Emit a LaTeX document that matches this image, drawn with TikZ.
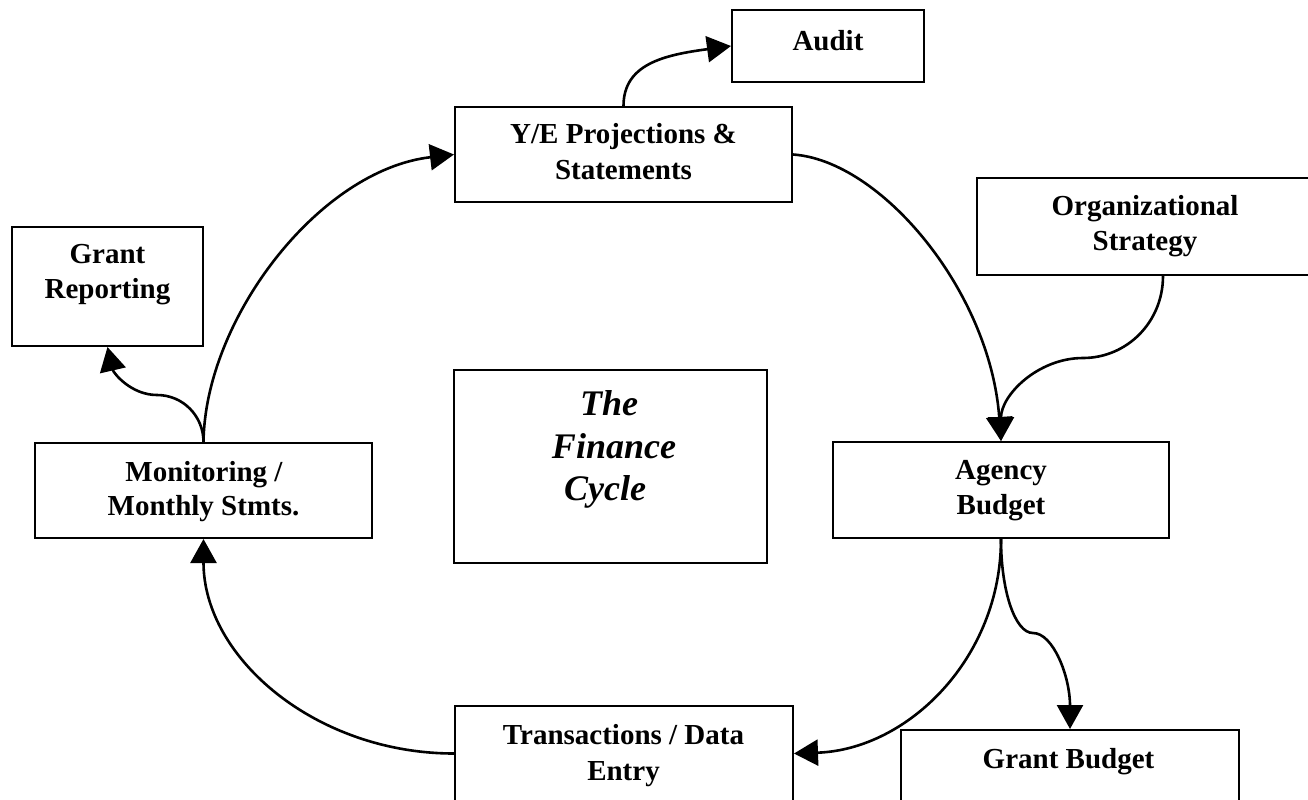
\documentclass[tikz,border=0pt]{standalone}
\usepackage{fontspec}
\setmainfont{Liberation Serif}
\usetikzlibrary{arrows.meta}
\begin{document}
\begin{tikzpicture}[x=0.5pt,y=-0.5pt,
  bx/.style={draw, line width=1pt, inner sep=0pt, rectangle},
  lbl/.style={anchor=base, inner sep=0pt, font=\fontsize{14.5pt}{17pt}\selectfont\bfseries},
  big/.style={anchor=base, inner sep=0pt, font=\fontsize{18pt}{21pt}\selectfont\bfseries\itshape},
  conn/.style={line width=1.3pt, -{Triangle[length=12pt,width=13pt]}}]
\useasboundingbox (0,0) rectangle (1308,799);
% boxes
\node[bx, minimum width=96pt, minimum height=36pt] (audit) at (828,46) {};
\node[bx, minimum width=168.5pt, minimum height=47.5pt] (ye) at (623.5,154.5) {};
\node[bx, minimum width=168pt, minimum height=48.5pt] (org) at (1145,226.5) {};
\node[bx, minimum width=95.5pt, minimum height=59.5pt] (grep) at (107.5,286.5) {};
\node[bx, minimum width=156.5pt, minimum height=96.5pt] (fin) at (610.5,466.5) {};
\node[bx, minimum width=168.5pt, minimum height=47.5pt] (mon) at (203.5,490.5) {};
\node[bx, minimum width=168pt, minimum height=48pt] (agency) at (1001,490) {};
\node[bx, minimum width=169pt, minimum height=47.5pt] (trans) at (624,753.5) {};
\node[bx, minimum width=169pt, minimum height=47.5pt] (gbud) at (1070,777.5) {};
% texts
\node[lbl] (tAudit) at (828,50) {Audit};
\node[lbl] (tYe1) at (623.5,143) {Y/E Projections \&};
\node[lbl] (tYe2) at (623.5,179) {Statements};
\node[lbl] (tOrg1) at (1145,215) {Organizational};
\node[lbl] (tOrg2) at (1145,250) {Strategy};
\node[lbl] (tGr1) at (107.5,263) {Grant};
\node[lbl] (tGr2) at (107.5,298) {Reporting};
\node[big] (tF1) at (609,415) {The};
\node[big] (tF2) at (614,458) {Finance};
\node[big] (tF3) at (605,500) {Cycle};
\node[lbl] (tMon1) at (204,481) {Monitoring /};
\node[lbl] (tMon2) at (203.5,515) {Monthly Stmts.};
\node[lbl] (tAg1) at (1001,479) {Agency};
\node[lbl] (tAg2) at (1001,514) {Budget};
\node[lbl] (tTr1) at (623.5,744) {Transactions / Data};
\node[lbl] (tTr2) at (623.5,780) {Entry};
\node[lbl] (tGb) at (1068.5,768) {Grant Budget};
% helper points of the S-shaped connectors
\coordinate (om) at (1083,358);
\coordinate (gm) at (1033,633);
\coordinate (rm) at (157,395);
% connectors
\draw[conn] (ye.north) .. controls +(0,-42) and +(-67,9) .. (audit.west);
\draw[conn] (ye.east) .. controls +(88,6) and +(-11,-150) .. (agency.north);
\draw[conn] ([xshift=9pt]org.south) .. controls +(0,46) and +(44,0) .. (om)
   .. controls +(-45,0) and +(0,-46) .. (agency.north);
\draw[conn] (agency.south) .. controls +(0,119) and +(114,-4) .. (trans.east);
\draw[conn] (agency.south) .. controls +(0,52) and +(-18,0) .. (gm)
   .. controls +(20,0) and +(0,-53) .. (gbud.north);
\draw[conn] (trans.west) .. controls +(-138,0) and +(0,119) .. (mon.south);
\draw[conn] (mon.north) .. controls +(1.5,-123) and +(-135,15.5) .. (ye.west);
\draw[conn] (mon.north) .. controls +(0,-26) and +(26,0) .. (rm)
   .. controls +(-26,0) and +(6,26) .. (grep.south);
\end{tikzpicture}
\end{document}
